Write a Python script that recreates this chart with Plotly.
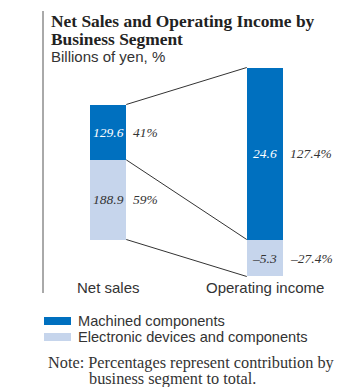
import plotly.graph_objects as go

categories = ["Net sales", "Operating income"]
machined_values = [129.6, 24.6]
electronic_values = [188.9, -5.3]
machined_pct = [41, 127.4]
electronic_pct = [59, -27.4]
value_labels_m = ["129.6", "24.6"]
value_labels_e = ["188.9", "–5.3"]
pct_labels_m = ["41%", "127.4%"]
pct_labels_e = ["59%", "–27.4%"]
legend_names = ["Machined components", "Electronic devices and components"]

DARK = "#0070BF"
LIGHT = "#C6D5EC"
TXT = "#333333"
W, H = 347, 387
ML, MR, MT, MB = 30, 4, 64, 107
PW, PH = W - ML - MR, H - MT - MB
BW = 0.23
xs = list(range(len(categories)))


def px(x):
    return (x - ML) / PW


def py(y):
    return (H - MB - y) / PH


fig = go.Figure()
fig.add_bar(x=xs, y=electronic_pct, width=BW, marker=dict(color=LIGHT, line=dict(width=0)),
            showlegend=False, hoverinfo="skip", name=legend_names[1])
fig.add_bar(x=xs, y=machined_pct, width=BW, marker=dict(color=DARK, line=dict(width=0)),
            showlegend=False, hoverinfo="skip", name=legend_names[0])

# connector lines between segment boundaries
bounds = []
for e, m in zip(electronic_pct, machined_pct):
    bottom = min(e, 0) + min(m, 0)
    mid = max(e, 0) if e >= 0 else 0
    top = max(e, 0) + max(m, 0)
    bounds.append([top, mid, bottom])
for k in range(3):
    fig.add_scatter(x=[xs[0] + BW / 2, xs[1] - BW / 2], y=[bounds[0][k], bounds[1][k]],
                    mode="lines", line=dict(color=TXT, width=1), showlegend=False,
                    hoverinfo="skip")

ann = []
serif = "Liberation Serif, Times New Roman, serif"
sans = "Liberation Sans, Arial, sans-serif"
for i in xs:
    e, m = electronic_pct[i], machined_pct[i]
    e_lo, e_hi = (0, e) if e >= 0 else (e, 0)
    m_lo = max(e, 0) if m >= 0 else min(e, 0)
    m_hi = m_lo + m
    e_mid = (e_lo + e_hi) / 2
    m_mid = (m_lo + m_hi) / 2
    ann.append(dict(x=i, y=m_mid, text=value_labels_m[i], showarrow=False,
                    font=dict(family=serif, size=13.5, color="white", style="italic")))
    ann.append(dict(x=i, y=e_mid, text=value_labels_e[i], showarrow=False,
                    font=dict(family=serif, size=13.5, color=TXT, style="italic")))
    ann.append(dict(x=i + BW / 2, y=m_mid, text=pct_labels_m[i], showarrow=False,
                    xanchor="left", xshift=5,
                    font=dict(family=serif, size=13.5, color=TXT, style="italic")))
    ann.append(dict(x=i + BW / 2, y=e_mid, text=pct_labels_e[i], showarrow=False,
                    xanchor="left", xshift=5,
                    font=dict(family=serif, size=13.5, color=TXT, style="italic")))
    # category label
    ann.append(dict(x=i, xref="x", yref="paper", y=py(287), yanchor="middle",
                    text=categories[i], showarrow=False,
                    font=dict(family=sans, size=15, color=TXT)))

# title, subtitle, note
ann.append(dict(xref="paper", yref="paper", x=px(49), y=py(21), xanchor="left",
                yanchor="middle", showarrow=False, text="<b>Net Sales and Operating Income by</b>",
                font=dict(family=serif, size=17.4, color="#222222")))
ann.append(dict(xref="paper", yref="paper", x=px(49), y=py(39), xanchor="left",
                yanchor="middle", showarrow=False, text="<b>Business Segment</b>",
                font=dict(family=serif, size=17.4, color="#222222")))
ann.append(dict(xref="paper", yref="paper", x=px(49), y=py(57), xanchor="left",
                yanchor="middle", showarrow=False, text="Billions of yen, %",
                font=dict(family=sans, size=15, color=TXT)))
ann.append(dict(xref="paper", yref="paper", x=px(46), y=py(362), xanchor="left",
                yanchor="middle", showarrow=False,
                text="Note: Percentages represent contribution by",
                font=dict(family=serif, size=16.3, color=TXT)))
ann.append(dict(xref="paper", yref="paper", x=px(87), y=py(378), xanchor="left",
                yanchor="middle", showarrow=False, text="business segment to total.",
                font=dict(family=serif, size=16.3, color=TXT)))

# manual legend
shapes = [dict(type="line", xref="paper", yref="paper", x0=px(43), x1=px(43),
               y0=py(11), y1=py(293), line=dict(color="#555555", width=1))]
leg_colors = [DARK, LIGHT]
leg_y = [321, 337]
for name, col, yy in zip(legend_names, leg_colors, leg_y):
    shapes.append(dict(type="rect", xref="paper", yref="paper", x0=px(44), x1=px(71),
                       y0=py(yy - 4), y1=py(yy + 4), fillcolor=col, line=dict(width=0)))
    ann.append(dict(xref="paper", yref="paper", x=px(77), y=py(yy), xanchor="left",
                    yanchor="middle", showarrow=False, text=name, borderpad=0,
                    font=dict(family=sans, size=14.6, color=TXT)))

fig.update_layout(
    width=W, height=H,
    margin=dict(l=ML, r=MR, t=MT, b=MB),
    barmode="relative",
    bargap=0,
    plot_bgcolor="white", paper_bgcolor="white",
    xaxis=dict(range=[-0.5, 1.5], showticklabels=False, showgrid=False,
               zeroline=False, showline=False, ticks="", fixedrange=True),
    yaxis=dict(range=[-30, 130], visible=False, fixedrange=True),
    annotations=ann,
    shapes=shapes,
    showlegend=False,
)

fig.write_html("out.html", config={"displayModeBar": False})
